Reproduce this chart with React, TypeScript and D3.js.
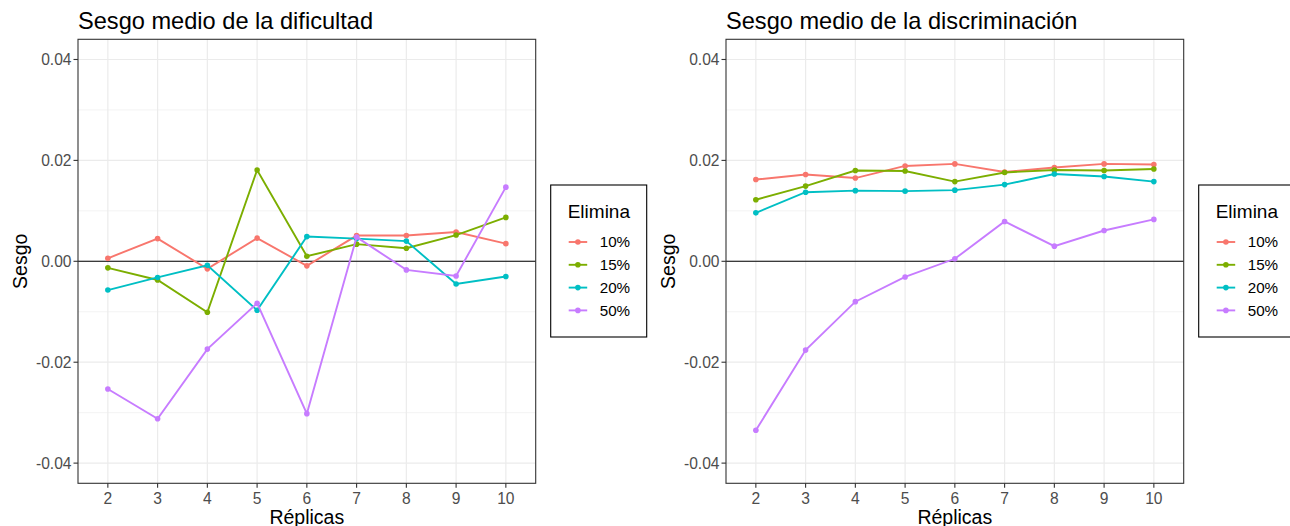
import React from "react";
import * as d3 from "d3";

const replicas = ["2", "3", "4", "5", "6", "7", "8", "9", "10"];
const groups = ["10%", "15%", "20%", "50%"];
const colors = ["#F8766D", "#7CAE00", "#00BFC4", "#C77CFF"];
const yTicks = [-0.04, -0.02, 0, 0.02, 0.04];
const yTickLabels = ["-0.04", "-0.02", "0.00", "0.02", "0.04"];
const yMinor = [-0.03, -0.01, 0.01, 0.03];

// Left panel: dificultad
const dif10 = [0.0006, 0.0045, -0.0015, 0.0046, -0.0009, 0.0051, 0.0051, 0.0058, 0.0035];
const dif15 = [-0.0013, -0.0037, -0.0101, 0.0181, 0.001, 0.0034, 0.0026, 0.0052, 0.0087];
const dif20 = [-0.0057, -0.0032, -0.0008, -0.0097, 0.0049, 0.0045, 0.004, -0.0045, -0.003];
const dif50 = [-0.0253, -0.0312, -0.0174, -0.0083, -0.0302, 0.0048, -0.0017, -0.0029, 0.0147];

// Right panel: discriminación
const dis10 = [0.0162, 0.0172, 0.0165, 0.0189, 0.0193, 0.0177, 0.0186, 0.0193, 0.0192];
const dis15 = [0.0122, 0.0149, 0.018, 0.0179, 0.0158, 0.0176, 0.0181, 0.018, 0.0183];
const dis20 = [0.0096, 0.0137, 0.014, 0.0139, 0.0141, 0.0152, 0.0173, 0.0168, 0.0158];
const dis50 = [-0.0335, -0.0176, -0.008, -0.0031, 0.0005, 0.0079, 0.003, 0.0061, 0.0083];

const FONT = "'Liberation Sans', Arial, Helvetica, sans-serif";

function Panel({ x0, title, series }: { x0: number; title: string; series: number[][] }) {
  const width = 457.7;
  const y0 = 39.3;
  const y1 = 483.3;
  const x = d3.scalePoint<string>().domain(replicas).range([x0, x0 + width]).padding(0.6);
  const y = d3.scaleLinear().domain([-0.044, 0.044]).range([y1, y0]);
  const line = d3
    .line<number>()
    .x((_, i) => x(replicas[i]) as number)
    .y((d) => y(d));
  const legX = x0 + width + 15;
  const legY = 185;
  return (
    <g>
      <text x={x0} y={29} fontSize={23.6} fontFamily={FONT} fill="#000">
        {title}
      </text>
      <rect x={x0} y={y0} width={width} height={y1 - y0} fill="#fff" />
      {yMinor.map((v) => (
        <line key={"m" + v} x1={x0} x2={x0 + width} y1={y(v)} y2={y(v)} stroke="#EBEBEB" strokeWidth={0.6} />
      ))}
      {yTicks.map((v) => (
        <line key={"g" + v} x1={x0} x2={x0 + width} y1={y(v)} y2={y(v)} stroke="#EBEBEB" strokeWidth={1.2} />
      ))}
      {replicas.map((r) => (
        <line key={"v" + r} x1={x(r)} x2={x(r)} y1={y0} y2={y1} stroke="#EBEBEB" strokeWidth={1.2} />
      ))}
      <line x1={x0} x2={x0 + width} y1={y(0)} y2={y(0)} stroke="#000" strokeWidth={1.1} />
      {series.map((s, k) => (
        <g key={k}>
          <path d={line(s) || ""} fill="none" stroke={colors[k]} strokeWidth={1.9} />
          {s.map((v, i) => (
            <circle key={i} cx={x(replicas[i])} cy={y(v)} r={2.8} fill={colors[k]} />
          ))}
        </g>
      ))}
      <rect x={x0} y={y0} width={width} height={y1 - y0} fill="none" stroke="#333333" strokeWidth={1.1} />
      {yTicks.map((v, i) => (
        <g key={"t" + v}>
          <line x1={x0 - 4.5} x2={x0} y1={y(v)} y2={y(v)} stroke="#333333" strokeWidth={1.1} />
          <text
            x={x0 - 6.5}
            y={y(v)}
            dy="0.36em"
            textAnchor="end"
            fontSize={15.6}
            fontFamily={FONT}
            fill="#4D4D4D"
          >
            {yTickLabels[i]}
          </text>
        </g>
      ))}
      {replicas.map((r) => (
        <g key={"xt" + r}>
          <line x1={x(r)} x2={x(r)} y1={y1} y2={y1 + 4.5} stroke="#333333" strokeWidth={1.1} />
          <text x={x(r)} y={504} textAnchor="middle" fontSize={15.6} fontFamily={FONT} fill="#4D4D4D">
            {r}
          </text>
        </g>
      ))}
      <text x={x0 + width / 2} y={524} textAnchor="middle" fontSize={19.5} fontFamily={FONT} fill="#000">
        Réplicas
      </text>
      <text
        transform={`translate(${x0 - 51},${(y0 + y1) / 2}) rotate(-90)`}
        textAnchor="middle"
        fontSize={19.5}
        fontFamily={FONT}
        fill="#000"
      >
        Sesgo
      </text>
      <g>
        <rect x={legX} y={legY} width={96} height={152} fill="#fff" stroke="#000" strokeWidth={1.1} />
        <text x={legX + 17} y={legY + 33} fontSize={19} fontFamily={FONT} fill="#000">
          Elimina
        </text>
        {groups.map((g, k) => {
          const cy = legY + 57 + k * 22.8;
          return (
            <g key={g}>
              <line x1={legX + 18} x2={legX + 36.5} y1={cy} y2={cy} stroke={colors[k]} strokeWidth={1.9} />
              <circle cx={legX + 27.2} cy={cy} r={2.8} fill={colors[k]} />
              <text x={legX + 49} y={cy} dy="0.36em" fontSize={15.2} fontFamily={FONT} fill="#000">
                {g}
              </text>
            </g>
          );
        })}
      </g>
    </g>
  );
}

export default function App() {
  return (
    <svg width={1290} height={526} style={{ position: "absolute", left: 0, top: 0, background: "#fff" }}>
      <rect x={0} y={0} width={1290} height={526} fill="#fff" />
      <Panel x0={78} title="Sesgo medio de la dificultad" series={[dif10, dif15, dif20, dif50]} />
      <Panel x0={726} title="Sesgo medio de la discriminación" series={[dis10, dis15, dis20, dis50]} />
    </svg>
  );
}
